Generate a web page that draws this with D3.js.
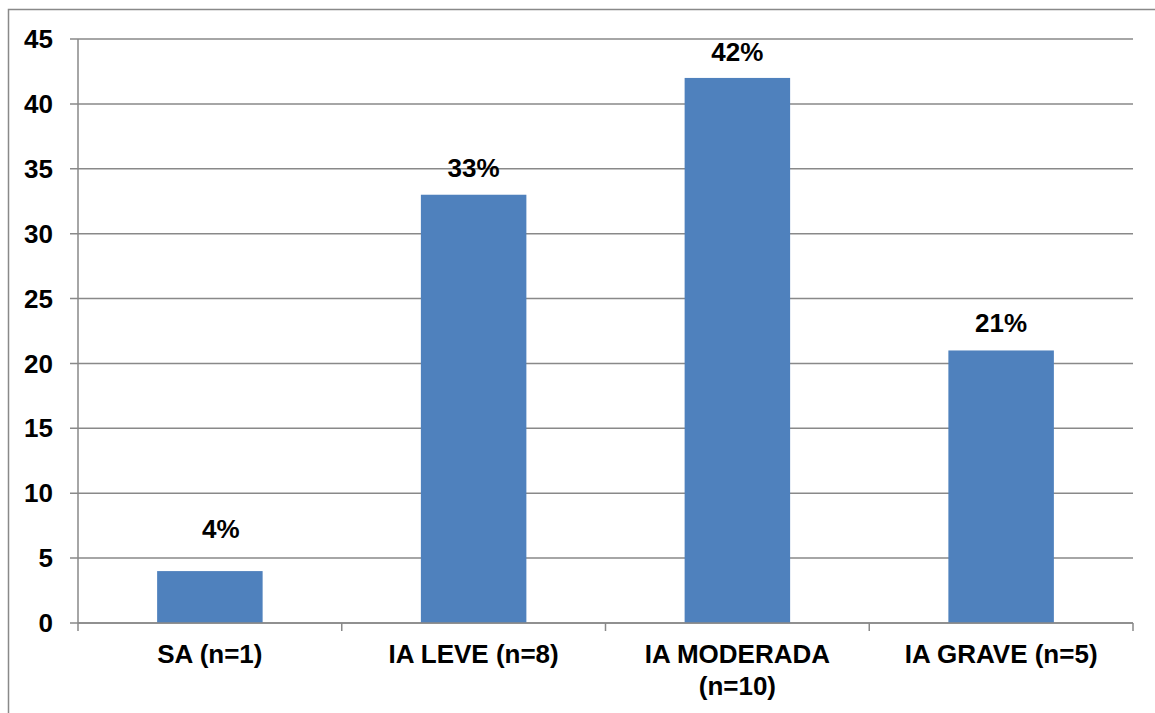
<!DOCTYPE html>
<meta charset="utf-8">
<style>
body { margin: 0; background: #fff; }
text { font-family: "Liberation Sans", Arial, sans-serif; font-weight: bold; fill: #000; }
.grid line { stroke: #898989; stroke-width: 1.5px; }
</style>
<body>
<div id="chart"></div>
<script src="https://cdn.jsdelivr.net/npm/d3@7"></script>
<script>

// chart data
var categories = ["SA (n=1)", "IA LEVE (n=8)", "IA MODERADA (n=10)", "IA GRAVE (n=5)"];
var labelLines = [["SA (n=1)"], ["IA LEVE (n=8)"], ["IA MODERADA", "(n=10)"], ["IA GRAVE (n=5)"]];
var values = [4, 33, 42, 21];
var valueLabels = ["4%", "33%", "42%", "21%"];
var yTicks = [0, 5, 10, 15, 20, 25, 30, 35, 40, 45];

var width = 1155,
    height = 713,
    margin = {top: 39, right: 22, bottom: 90, left: 78};

var svg = d3.select("#chart").append("svg")
    .attr("width", width)
    .attr("height", height);

// outer frame
svg.append("rect")
    .attr("x", 8.5).attr("y", 9.5)
    .attr("width", width + 20).attr("height", height + 20)
    .attr("fill", "none")
    .attr("stroke", "#898989")
    .attr("stroke-width", 1.5);

var x = d3.scaleBand()
    .domain(categories)
    .range([margin.left, width - margin.right])
    .padding(0);

var y = d3.scaleLinear()
    .domain([0, 45])
    .range([height - margin.bottom, margin.top]);

// gridlines + y ticks
var grid = svg.append("g").attr("class", "grid");
grid.selectAll("line")
    .data(yTicks)
    .enter().append("line")
    .attr("x1", margin.left - 8)
    .attr("x2", width - margin.right)
    .attr("y1", function(d) { return y(d); })
    .attr("y2", function(d) { return y(d); });

svg.selectAll("text.ytick")
    .data(yTicks)
    .enter().append("text")
    .attr("class", "ytick")
    .attr("x", 53)
    .attr("y", function(d) { return y(d); })
    .attr("dy", "0.35em")
    .attr("text-anchor", "end")
    .style("font-size", "26px")
    .text(function(d) { return d; });

// y axis line
svg.append("line")
    .attr("x1", margin.left).attr("x2", margin.left)
    .attr("y1", y(45)).attr("y2", y(0) + 8)
    .attr("stroke", "#898989").attr("stroke-width", 1.5);

// x tick marks at band edges
var edges = categories.map(function(c) { return x(c); }).concat([x.range()[1]]);
svg.selectAll("line.xtick")
    .data(edges.slice(1))
    .enter().append("line")
    .attr("class", "xtick")
    .attr("x1", function(d) { return d; })
    .attr("x2", function(d) { return d; })
    .attr("y1", y(0)).attr("y2", y(0) + 8)
    .attr("stroke", "#898989").attr("stroke-width", 1.5);

// bars
var barW = x.bandwidth() * 0.4;
svg.selectAll("rect.bar")
    .data(values)
    .enter().append("rect")
    .attr("class", "bar")
    .attr("x", function(d, i) { return x(categories[i]) + (x.bandwidth() - barW) / 2; })
    .attr("y", function(d) { return y(d); })
    .attr("width", barW)
    .attr("height", function(d) { return y(0) - y(d); })
    .attr("fill", "#4F81BD");

// x axis baseline drawn over bars
svg.append("line")
    .attr("x1", margin.left).attr("x2", width - margin.right)
    .attr("y1", y(0)).attr("y2", y(0))
    .attr("stroke", "#898989").attr("stroke-width", 1.5);

// value labels (small nudges as placed in the original)
var labelGap = [33, 18, 17, 18];
var labelDx = [11, 0, 0, 0];
svg.selectAll("text.val")
    .data(values)
    .enter().append("text")
    .attr("class", "val")
    .attr("x", function(d, i) { return x(categories[i]) + x.bandwidth() / 2 + labelDx[i]; })
    .attr("y", function(d, i) { return y(d) - labelGap[i]; })
    .attr("text-anchor", "middle")
    .style("font-size", "26px")
    .text(function(d, i) { return valueLabels[i]; });

// category labels
var cat = svg.selectAll("text.cat")
    .data(categories)
    .enter().append("text")
    .attr("class", "cat")
    .attr("x", function(d) { return x(d) + x.bandwidth() / 2; })
    .attr("y", y(0) + 40)
    .attr("text-anchor", "middle")
    .style("font-size", "26px");

cat.selectAll("tspan")
    .data(function(d, i) { return labelLines[i]; })
    .enter().append("tspan")
    .attr("x", function() { return d3.select(this.parentNode).attr("x"); })
    .attr("dy", function(d, j) { return j === 0 ? 0 : 32; })
    .text(function(d) { return d; });

</script>
</body>
